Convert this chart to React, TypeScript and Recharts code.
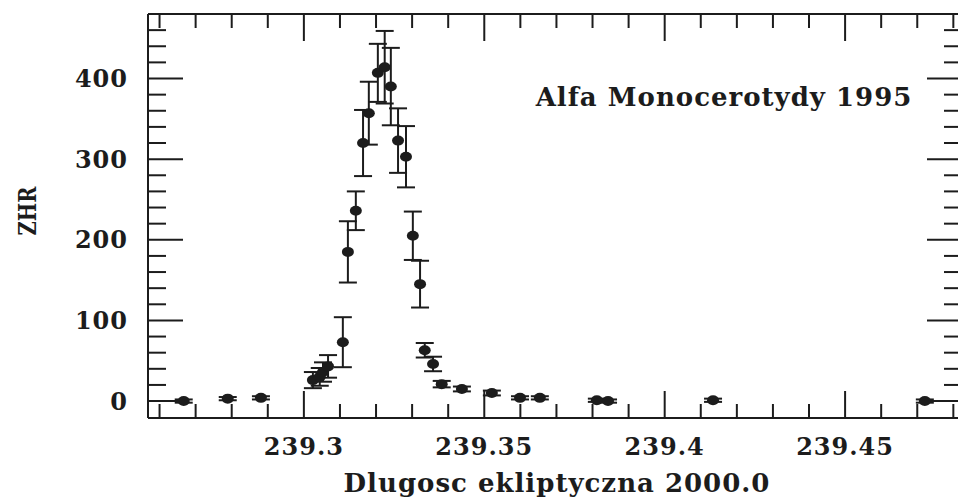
import { ScatterChart, Scatter, XAxis, YAxis, ErrorBar } from 'recharts';

// solar longitude (J2000.0) of each interval
const longitudes = [
  239.2667, 239.2789, 239.2881, 239.3025, 239.3044, 239.3053, 239.3067, 239.3108,
  239.3122, 239.3144, 239.3164, 239.318, 239.3205, 239.3224, 239.3241, 239.3261,
  239.3283, 239.3302, 239.3322, 239.3335, 239.3358, 239.3382, 239.3438, 239.3521,
  239.3599, 239.3654, 239.3812, 239.3843, 239.4134, 239.4721,
];
// ZHR values
const zhrValues = [
  0, 3, 4, 26, 30, 36, 43, 73,
  185, 236, 320, 357, 407, 414, 390, 323,
  303, 205, 145, 63, 46, 21, 15, 10,
  4, 4, 1, 0, 1, 0,
];
// +/- errors of ZHR
const zhrErrors = [
  2, 2, 2, 10, 11, 12, 14, 31,
  38, 24, 41, 39, 36, 45, 48, 40,
  38, 30, 29, 9, 9, 4, 3, 3,
  2, 2, 2, 2, 2, 2,
];

const xTicks = [
  239.26, 239.27, 239.28, 239.29, 239.3, 239.31, 239.32, 239.33, 239.34, 239.35, 239.36,
  239.37, 239.38, 239.39, 239.4, 239.41, 239.42, 239.43, 239.44, 239.45, 239.46, 239.47, 239.48,
];
const xMajorTicks = [239.3, 239.35, 239.4, 239.45];
const xLabels = ['239.3', '239.35', '239.4', '239.45'];
const yTicks = [0, 20, 40, 60, 80, 100, 120, 140, 160, 180, 200, 220, 240, 260, 280, 300, 320, 340, 360, 380, 400, 420, 440, 460];
const yMajorTicks = [0, 100, 200, 300, 400];

const data = longitudes.map((x, i) => ({ x, zhr: zhrValues[i], err: zhrErrors[i] }));

const INK = '#1c1c1c';
const FONT = '"DejaVu Serif", serif';
const X_MARGIN = 19;
const Y_MARGIN = 20;
const tickFont = { fontFamily: FONT, fontWeight: 'bold', fontSize: 24, letterSpacing: 1 };

const BottomTick = (props: any) => {
  const { x, y, payload } = props;
  const idx = xMajorTicks.indexOf(payload.value);
  const axisY = y - X_MARGIN;
  const len = idx >= 0 ? 27 : 14;
  return (
    <g>
      <line x1={x} x2={x} y1={axisY} y2={axisY - len} stroke={INK} strokeWidth={2} />
      {idx >= 0 && (
        <text x={x} y={y} dy="0.75em" textAnchor="middle" fill={INK} style={tickFont}>
          {xLabels[idx]}
        </text>
      )}
    </g>
  );
};

const TopTick = (props: any) => {
  const { x, y, payload } = props;
  const len = xMajorTicks.includes(payload.value) ? 27 : 14;
  return <line x1={x} x2={x} y1={y} y2={y + len} stroke={INK} strokeWidth={2} />;
};

const LeftTick = (props: any) => {
  const { x, y, payload } = props;
  const major = yMajorTicks.includes(payload.value);
  const axisX = x + Y_MARGIN;
  return (
    <g>
      <line x1={axisX} x2={axisX + (major ? 35 : 18)} y1={y} y2={y} stroke={INK} strokeWidth={2} />
      {major && (
        <text x={x} y={y} dy="0.36em" textAnchor="end" fill={INK} style={tickFont}>
          {payload.value}
        </text>
      )}
    </g>
  );
};

const RightTick = (props: any) => {
  const { x, y, payload } = props;
  const len = yMajorTicks.includes(payload.value) ? 35 : 18;
  return <line x1={x} x2={x - len} y1={y} y2={y} stroke={INK} strokeWidth={2} />;
};

const Dot = (props: any) => {
  const { cx, cy } = props;
  return <ellipse cx={cx} cy={cy} rx={6} ry={5} fill={INK} />;
};

const textStyle: any = {
  position: 'absolute',
  fontFamily: FONT,
  fontWeight: 'bold',
  fontSize: 26,
  letterSpacing: 1,
  color: INK,
  lineHeight: 1,
  whiteSpace: 'nowrap',
  transform: 'translate(-50%, -50%)',
};

export default function App() {
  const xDomain = [239.2568, 239.4824];
  const yDomain = [-21, 480];
  const axisLine = { stroke: INK, strokeWidth: 2 };

  return (
    <div style={{ position: 'absolute', left: 0, top: 0, width: 958, height: 499, overflow: 'hidden', background: '#fff' }}>
      <ScatterChart width={964} height={499} margin={{ top: 13, right: 1, bottom: 80, left: 147 }}>
        <XAxis xAxisId="b" type="number" dataKey="x" domain={xDomain} ticks={xTicks} interval={0}
          allowDataOverflow height={1} tickLine={false} tickSize={0} tickMargin={X_MARGIN}
          axisLine={axisLine} tick={(p: any) => <BottomTick {...p} />} />
        <XAxis xAxisId="t" orientation="top" type="number" dataKey="x" domain={xDomain} ticks={xTicks} interval={0}
          allowDataOverflow height={1} tickLine={false} tickSize={0} tickMargin={0}
          axisLine={axisLine} tick={(p: any) => <TopTick {...p} />} />
        <YAxis yAxisId="l" type="number" dataKey="zhr" domain={yDomain} ticks={yTicks} interval={0}
          allowDataOverflow width={1} tickLine={false} tickSize={0} tickMargin={Y_MARGIN}
          axisLine={axisLine} tick={(p: any) => <LeftTick {...p} />} />
        <YAxis yAxisId="r" orientation="right" type="number" dataKey="zhr" domain={yDomain} ticks={yTicks} interval={0}
          allowDataOverflow width={1} tickLine={false} tickSize={0} tickMargin={0}
          axisLine={axisLine} tick={(p: any) => <RightTick {...p} />} />
        <Scatter xAxisId="b" yAxisId="l" data={data} dataKey="zhr" shape={(p: any) => <Dot {...p} />} isAnimationActive={false}>
          <ErrorBar dataKey="err" direction="y" width={9} stroke={INK} strokeWidth={2} isAnimationActive={false} />
        </Scatter>
      </ScatterChart>
      <div style={{ ...textStyle, left: 724, top: 97 }}>Alfa Monocerotydy 1995</div>
      <div style={{ ...textStyle, left: 557, top: 483 }}>Dlugosc ekliptyczna 2000.0</div>
      <div style={{ ...textStyle, fontSize: 25, letterSpacing: 0, left: 27, top: 211, transform: 'translate(-50%, -50%) rotate(-90deg) scaleX(0.78)' }}>ZHR</div>
    </div>
  );
}
